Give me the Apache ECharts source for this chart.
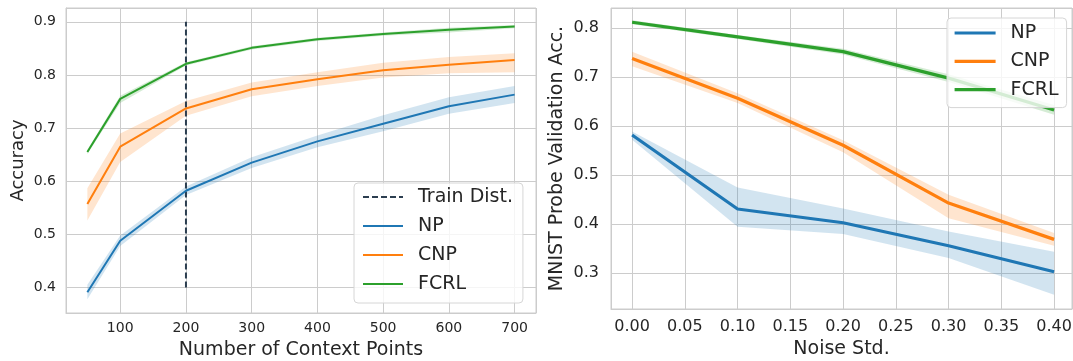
<!DOCTYPE html>
<html>
<head>
<meta charset="utf-8">
<script src="https://cdn.jsdelivr.net/npm/echarts@6/dist/echarts.min.js"></script>
<style>
  html, body { margin: 0; padding: 0; background: #ffffff; }
  #chart { width: 1073px; height: 361px; }
</style>
</head>
<body>
<div id="chart"></div>
<script>
// ---- Left panel: accuracy vs. number of context points ----
const contextPoints = [50, 100, 200, 300, 400, 500, 600, 700];
const npAcc    = [0.391, 0.488, 0.582, 0.635, 0.675, 0.708, 0.741, 0.763];
const npAccLo  = [0.378, 0.478, 0.574, 0.625, 0.664, 0.694, 0.727, 0.747];
const npAccHi  = [0.405, 0.498, 0.590, 0.645, 0.686, 0.724, 0.758, 0.779];
const cnpAcc   = [0.557, 0.665, 0.737, 0.773, 0.792, 0.809, 0.819, 0.828];
const cnpAccLo = [0.526, 0.636, 0.723, 0.760, 0.779, 0.795, 0.803, 0.805];
const cnpAccHi = [0.587, 0.690, 0.751, 0.786, 0.805, 0.823, 0.834, 0.841];
const fcrlAcc   = [0.655, 0.755, 0.821, 0.851, 0.867, 0.877, 0.885, 0.891];
const fcrlAccLo = [0.651, 0.747, 0.818, 0.848, 0.864, 0.874, 0.880, 0.888];
const fcrlAccHi = [0.659, 0.761, 0.824, 0.854, 0.870, 0.880, 0.889, 0.894];
const trainDistX = 200;
const trainDistRange = [0.4, 0.9];

// ---- Right panel: probe accuracy vs. noise std ----
const noiseStd = [0.0, 0.1, 0.2, 0.3, 0.4];
const npProbe    = [0.582, 0.431, 0.403, 0.356, 0.303];
const npProbeLo  = [0.572, 0.395, 0.380, 0.331, 0.256];
const npProbeHi  = [0.589, 0.475, 0.432, 0.385, 0.344];
const cnpProbe   = [0.738, 0.657, 0.561, 0.443, 0.369];
const cnpProbeLo = [0.722, 0.647, 0.547, 0.412, 0.356];
const cnpProbeHi = [0.752, 0.667, 0.571, 0.460, 0.382];
const fcrlProbe   = [0.812, 0.782, 0.752, 0.698, 0.633];
const fcrlProbeLo = [0.808, 0.778, 0.746, 0.690, 0.623];
const fcrlProbeHi = [0.816, 0.786, 0.758, 0.706, 0.643];

const seriesNames = ['NP', 'CNP', 'FCRL'];
const COLORS = { NP: '#1f77b4', CNP: '#ff7f0e', FCRL: '#2ca02c' };
const TEXT = '#262626';
const GRID_LINE = '#cccccc';
const FONT = 'DejaVu Sans';

// shaded confidence band between lo and hi, drawn as one polygon
function band(name, xs, lo, hi, color, idx) {
  return {
    type: 'custom',
    name: name + '-band',
    xAxisIndex: idx, yAxisIndex: idx,
    data: xs.map((x, i) => [x, lo[i], hi[i]]),
    encode: { x: 0, y: [1, 2] },
    clip: true, silent: true, z: 1,
    renderItem(params, api) {
      if (params.dataIndex !== 0) return null;
      const upper = xs.map((x, i) => api.coord([x, hi[i]]));
      const lower = xs.map((x, i) => api.coord([x, lo[i]])).reverse();
      return {
        type: 'polygon',
        shape: { points: upper.concat(lower) },
        style: { fill: color, opacity: 0.2 }
      };
    }
  };
}

function line(name, xs, ys, color, idx, width) {
  return {
    type: 'line', name,
    xAxisIndex: idx, yAxisIndex: idx,
    data: xs.map((x, i) => [x, ys[i]]),
    symbol: 'none', showSymbol: false,
    lineStyle: { color, width },
    itemStyle: { color },
    z: 3
  };
}

function isMultiple(v, step) {
  const r = v / step;
  return Math.abs(r - Math.round(r)) < 1e-6;
}

function valueAxis(opts) {
  return Object.assign({
    type: 'value',
    axisLine: { show: true, lineStyle: { color: GRID_LINE, width: 1 } },
    axisTick: { show: false },
    splitLine: { show: true, lineStyle: { color: GRID_LINE, width: 1 } },
    nameLocation: 'middle',
    nameTextStyle: { color: TEXT, fontSize: 19, fontFamily: FONT }
  }, opts);
}

const leftLines = [
  [npAcc, npAccLo, npAccHi],
  [cnpAcc, cnpAccLo, cnpAccHi],
  [fcrlAcc, fcrlAccLo, fcrlAccHi]
];
const rightLines = [
  [npProbe, npProbeLo, npProbeHi],
  [cnpProbe, cnpProbeLo, cnpProbeHi],
  [fcrlProbe, fcrlProbeLo, fcrlProbeHi]
];

const series = [];
seriesNames.forEach((n, k) => {
  series.push(band(n, contextPoints, leftLines[k][1], leftLines[k][2], COLORS[n], 0));
});
seriesNames.forEach((n, k) => {
  series.push(band(n, noiseStd, rightLines[k][1], rightLines[k][2], COLORS[n], 1));
});
series.push({
  type: 'line', name: 'Train Dist.',
  xAxisIndex: 0, yAxisIndex: 0,
  data: trainDistRange.map(y => [trainDistX, y]),
  symbol: 'none', showSymbol: false,
  lineStyle: { color: '#2c3e50', width: 2, type: [6, 3] },
  itemStyle: { color: '#2c3e50' },
  z: 2
});
seriesNames.forEach((n, k) => {
  series.push(line(n, contextPoints, leftLines[k][0], COLORS[n], 0, 2));
});
seriesNames.forEach((n, k) => {
  series.push(line(n, noiseStd, rightLines[k][0], COLORS[n], 1, 3.2));
});

const legendText = {
  color: TEXT, fontSize: 19, fontFamily: FONT, lineHeight: 20, padding: [0, 0, 0, 10]
};
// legend keys are plain line segments, no marker
const hiddenMarker = {
  color: 'rgba(0,0,0,0)', borderColor: 'rgba(0,0,0,0)', borderWidth: 0, opacity: 0
};

const option = {
  backgroundColor: '#ffffff',
  animation: false,
  grid: [
    { left: 66, top: 8, width: 470, height: 305, outerBoundsMode: 'none', containLabel: false,
      show: true, borderColor: GRID_LINE, borderWidth: 1 },
    { left: 611, top: 8, width: 461, height: 301, outerBoundsMode: 'none', containLabel: false,
      show: true, borderColor: GRID_LINE, borderWidth: 1 }
  ],
  xAxis: [
    valueAxis({
      gridIndex: 0, min: 17.5, max: 732.5, splitNumber: 5,
      name: 'Number of Context Points', nameGap: 28,
      axisLabel: {
        color: TEXT, fontSize: 14, fontFamily: FONT, margin: 8,
        formatter: v => isMultiple(v, 100) ? String(Math.round(v)) : ''
      }
    }),
    valueAxis({
      gridIndex: 1, min: -0.02, max: 0.417, splitNumber: 9,
      name: 'Noise Std.', nameGap: 31,
      axisLabel: {
        color: TEXT, fontSize: 16, fontFamily: FONT, margin: 10,
        formatter: v => isMultiple(v, 0.05) ? v.toFixed(2) : ''
      }
    })
  ],
  yAxis: [
    valueAxis({
      gridIndex: 0, min: 0.352, max: 0.926, splitNumber: 5,
      name: 'Accuracy', nameGap: 39,
      nameTextStyle: { color: TEXT, fontSize: 18, fontFamily: FONT },
      axisLabel: {
        color: TEXT, fontSize: 14, fontFamily: FONT, margin: 10,
        formatter: v => isMultiple(v, 0.1) ? v.toFixed(1) : ''
      }
    }),
    valueAxis({
      gridIndex: 1, min: 0.227, max: 0.841, splitNumber: 5,
      name: 'MNIST Probe Validation Acc.', nameGap: 44,
      axisLabel: {
        color: TEXT, fontSize: 16, fontFamily: FONT, margin: 12,
        formatter: v => isMultiple(v, 0.1) ? v.toFixed(1) : ''
      }
    })
  ],
  legend: [
    {
      data: ['Train Dist.'].concat(seriesNames),
      orient: 'vertical', left: 354, top: 183,
      itemWidth: 40, itemHeight: 14, itemGap: 9,
      padding: [4, 10, 9, 8],
      backgroundColor: 'rgba(255,255,255,0.8)',
      borderColor: '#d6d6d6', borderWidth: 1, borderRadius: 4,
      itemStyle: hiddenMarker,
      lineStyle: { width: 2 },
      textStyle: legendText,
      selectedMode: false
    },
    {
      data: seriesNames,
      orient: 'vertical', left: 947, top: 18,
      itemWidth: 41, itemHeight: 14, itemGap: 8.3,
      padding: [5, 8, 8, 6],
      backgroundColor: 'rgba(255,255,255,0.8)',
      borderColor: '#d6d6d6', borderWidth: 1, borderRadius: 4,
      itemStyle: hiddenMarker,
      lineStyle: { width: 3.2, type: 'solid' },
      textStyle: legendText,
      selectedMode: false
    }
  ],
  series
};

const chart = echarts.init(document.getElementById('chart'), null, { renderer: 'canvas' });
chart.setOption(option);
</script>
</body>
</html>
